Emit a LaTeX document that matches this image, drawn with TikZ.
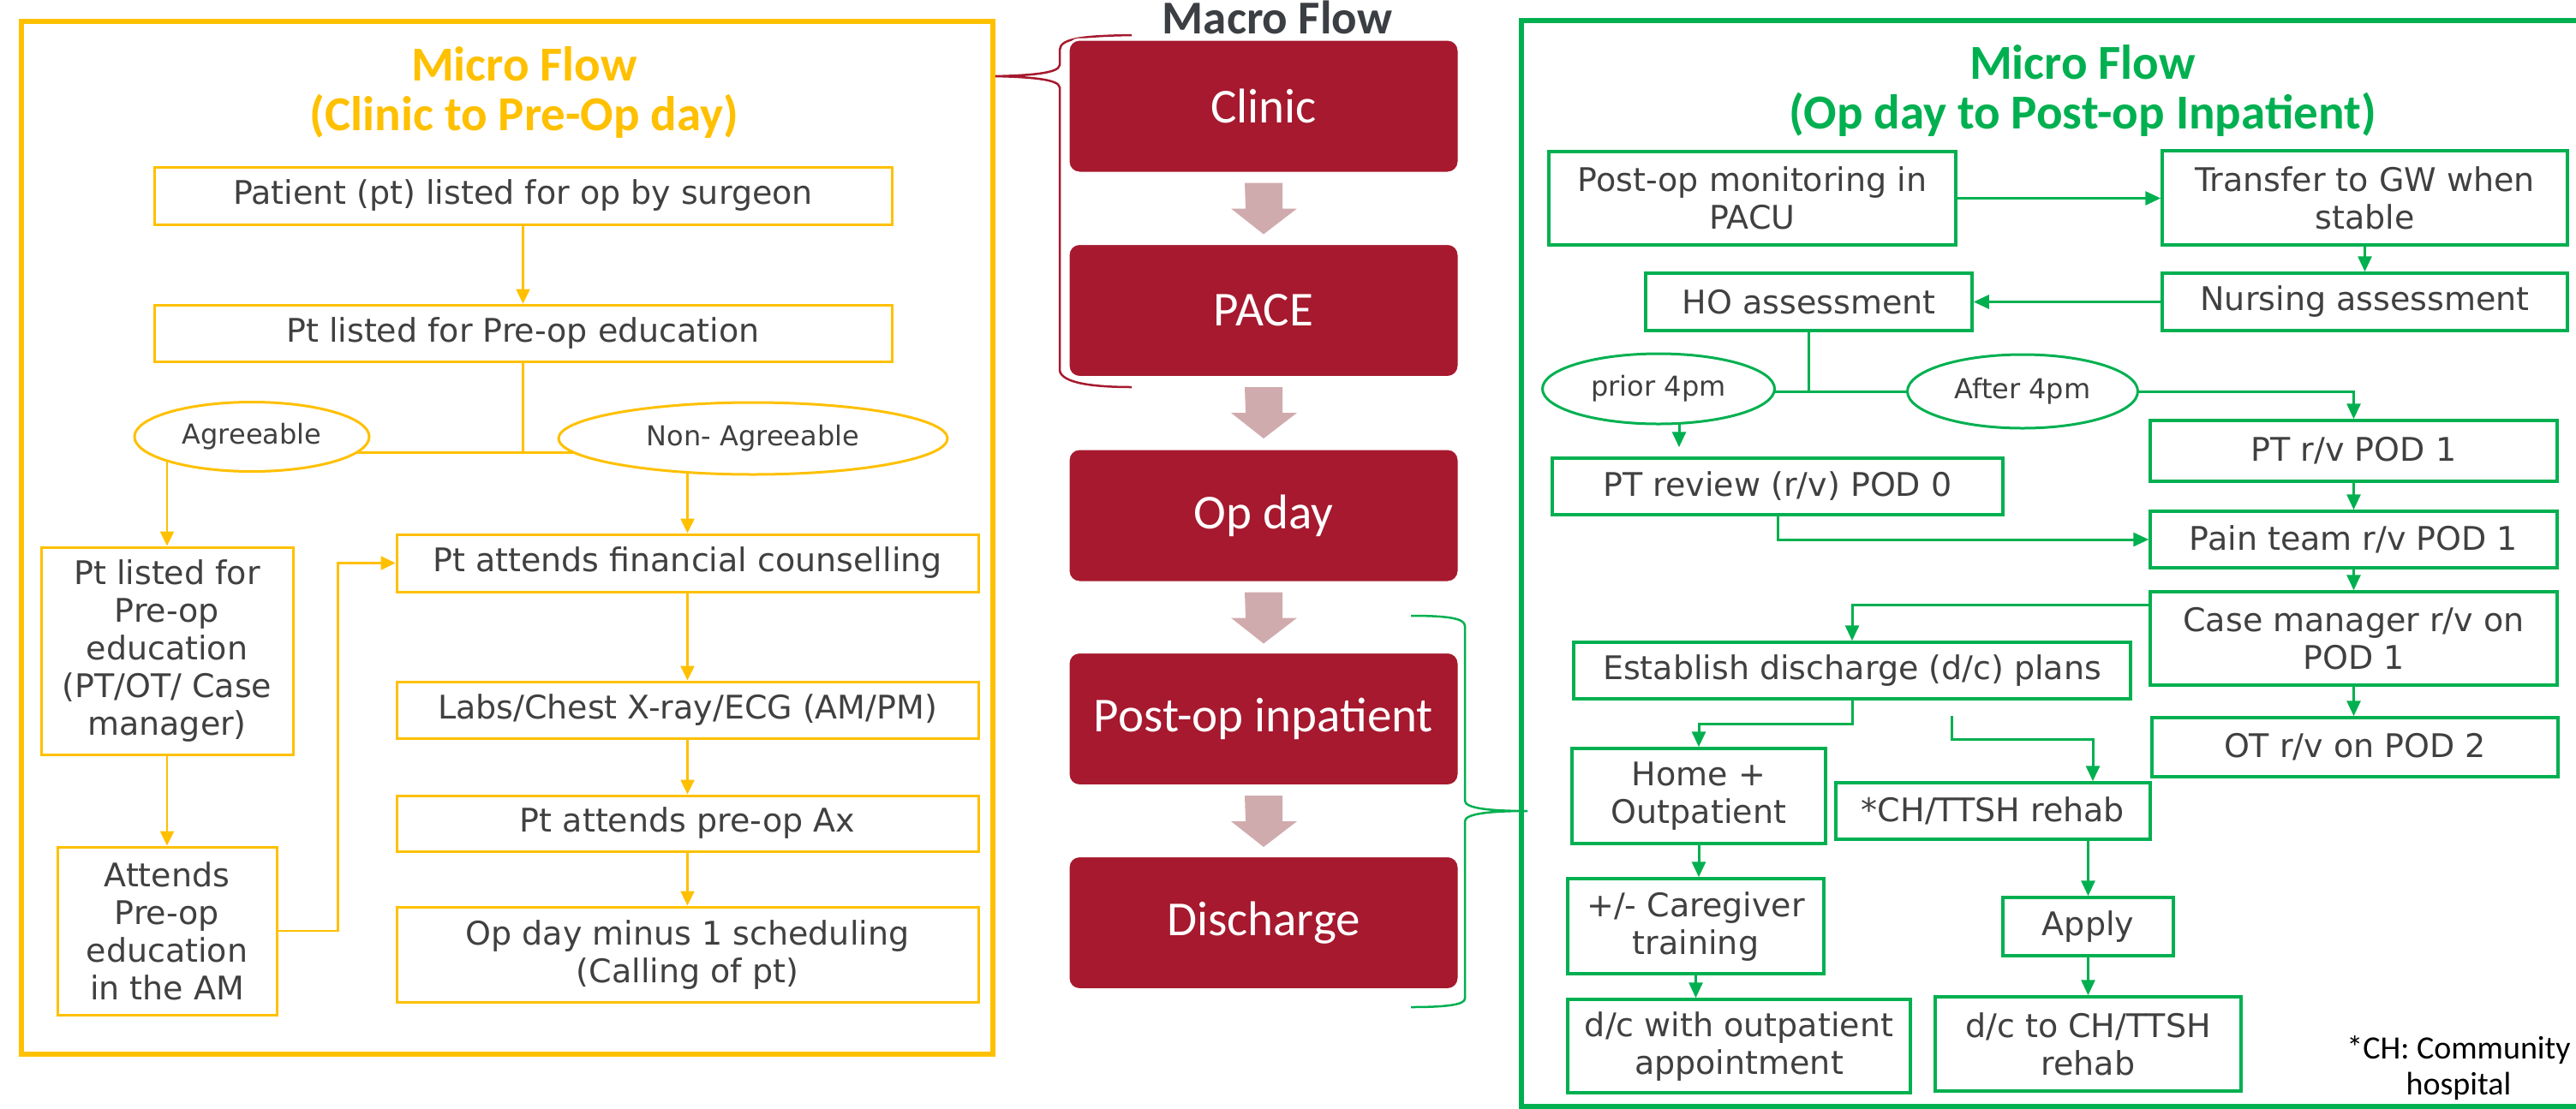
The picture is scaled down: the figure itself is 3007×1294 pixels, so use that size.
\documentclass[tikz,border=0pt]{standalone}
\usepackage{fontspec}
\setmainfont{DejaVu Sans}
\newfontfamily\calib{Carlito}
\usetikzlibrary{arrows.meta,shapes.geometric,backgrounds}
\definecolor{yel}{HTML}{FFC000}
\definecolor{grn}{HTML}{00B050}
\definecolor{mred}{HTML}{A6192E}
\definecolor{mpink}{HTML}{D0ABAE}
\definecolor{txt}{HTML}{404040}
\definecolor{ttl}{HTML}{3B3E42}
\tikzset{
  boxfont/.style={font=\fontsize{38}{44}\selectfont},
  ybox/.style={draw=yel, line width=3pt, fill=white, text=txt, boxfont, align=center, inner sep=0pt},
  gbox/.style={draw=grn, line width=3.5pt, fill=white, text=txt, boxfont, align=center, inner sep=0pt},
  yell/.style={ellipse, draw=yel, line width=3pt, fill=white, text=txt, font=\fontsize{32}{38}\selectfont, inner sep=0pt},
  gell/.style={ellipse, draw=grn, line width=3pt, fill=white, text=txt, font=\fontsize{32}{38}\selectfont, inner sep=0pt},
  yline/.style={draw=yel, line width=2.5pt},
  gline/.style={draw=grn, line width=3pt},
  yarr/.style={yline, -{Triangle[length=17pt,width=16pt]}},
  garr/.style={gline, -{Triangle[length=18pt,width=16pt]}},
  macrobox/.style={rounded corners=13pt, fill=mred, draw=white, line width=3pt, text=white,
    font=\calib\fontsize{57}{60}\selectfont, minimum width=456pt, minimum height=156pt, inner sep=0pt},
  blockarrow/.style={fill=mpink},
  ttlfont/.style={font=\calib\bfseries\fontsize{57}{58}\selectfont, align=center}
}
\begin{document}
\begin{tikzpicture}[x=1pt,y=-1pt]
\useasboundingbox (0,0) rectangle (3007,1294);

% frames
\draw[yel, line width=6pt] (25,25) rectangle (1159,1231);
\draw[grn, line width=6pt] (1776,24) rectangle (3040,1292);

% titles
\node[ttlfont, text=yel] (ytitle) at (612,108) {Micro Flow\\(Clinic to Pre-Op day)};
\node[ttlfont, text=grn] (gtitle) at (2431,106) {Micro Flow\\(Op day to Post-op Inpatient)};
\node[font=\calib\bfseries\fontsize{55}{60}\selectfont, text=ttl, anchor=base] (mtitle) at (1491,39) {Macro Flow};

% braces
\draw[mred, line width=2.5pt] (1321,41) .. controls (1262,42) and (1238,45) .. (1237,58)
  -- (1237,76) .. controls (1236,86) and (1200,88) .. (1162,89)
  .. controls (1200,90) and (1236,92) .. (1237,102)
  -- (1237,432) .. controls (1238,448) and (1280,452) .. (1321,452);
\draw[grn, line width=2.5pt] (1647,719) .. controls (1690,719) and (1710,722) .. (1710,731)
  -- (1710,935) .. controls (1710,944) and (1740,947) .. (1783,947)
  .. controls (1740,947) and (1710,950) .. (1710,959)
  -- (1710,1166) .. controls (1710,1173) and (1690,1176) .. (1647,1176);

% macro flow
\node[macrobox] (m1) at (1475,124) {Clinic};
\node[macrobox] (m2) at (1475,362.5) {PACE};
\node[macrobox] (m3) at (1475,602) {Op day};
\node[macrobox] (m4) at (1475,839.5) {Post-op inpatient};
\node[macrobox] (m5) at (1475,1077.5) {Discharge};
\foreach \a in {m1,m2,m3,m4}
  \fill[blockarrow] ([shift={(-22,10)}]\a.south) -- ++(44,0) -- ++(0,30) -- ++(17,0) -- ++(-39,30) -- ++(-38,-30) -- ++(17,0) -- cycle;

% yellow micro flow
\node[ybox, minimum width=861pt, minimum height=67pt] (y1) at (610.5,228.5) {Patient (pt) listed for op by surgeon};
\node[ybox, minimum width=861pt, minimum height=66pt] (y2) at (610.5,389) {Pt listed for Pre-op education};
\node[yell, minimum width=274pt, minimum height=81pt] (yag) at (294,510) {Agreeable};
\node[yell, minimum width=454pt, minimum height=84pt] (ynag) at (879,512) {Non- Agreeable};
\node[ybox, minimum width=294pt, minimum height=242pt] (y3) at (195,760) {Pt listed for\\Pre-op\\education\\(PT/OT/ Case\\manager)};
\node[ybox, minimum width=256pt, minimum height=196pt] (y4) at (195,1087) {Attends\\Pre-op\\education\\in the AM};
\node[ybox, minimum width=679pt, minimum height=67pt] (y5) at (802.5,657.5) {Pt attends financial counselling};
\node[ybox, minimum width=679pt, minimum height=66pt] (y6) at (802.5,829) {Labs/Chest X-ray/ECG (AM/PM)};
\node[ybox, minimum width=679pt, minimum height=65pt] (y7) at (802.5,961.5) {Pt attends pre-op Ax};
\node[ybox, minimum width=679pt, minimum height=111pt] (y8) at (802.5,1114.5) {Op day minus 1 scheduling\\(Calling of pt)};

% green micro flow
\node[gbox, minimum width=475pt, minimum height=109pt] (g1) at (2045.5,231.5) {Post-op monitoring in\\PACU};
\node[gbox, minimum width=473pt, minimum height=110pt] (g2) at (2760.5,231) {Transfer to GW when\\stable};
\node[gbox, minimum width=473pt, minimum height=67pt] (g3) at (2760.5,352.5) {Nursing assessment};
\node[gbox, minimum width=381pt, minimum height=67pt] (g4) at (2111.5,352.5) {HO assessment};
\node[gell, minimum width=271pt, minimum height=82pt] (gprior) at (1936,454) {prior 4pm};
\node[gell, minimum width=269pt, minimum height=86pt] (gafter) at (2361,457) {After 4pm};
\node[gbox, minimum width=526pt, minimum height=66pt] (g5) at (2075,568) {PT review (r/v) POD 0};
\node[gbox, minimum width=475pt, minimum height=71pt] (g6) at (2747.5,526.5) {PT r/v POD 1};
\node[gbox, minimum width=475pt, minimum height=66pt] (g7) at (2747.5,630) {Pain team r/v POD 1};
\node[gbox, minimum width=475pt, minimum height=109pt] (g8) at (2747.5,745.5) {Case manager r/v on\\POD 1};
\node[gbox, minimum width=474pt, minimum height=69pt] (g9) at (2749,872.5) {OT r/v on POD 2};
\node[gbox, minimum width=650pt, minimum height=66pt] (g10) at (2162,783) {Establish discharge (d/c) plans};
\node[gbox, minimum width=296pt, minimum height=111pt] (g11) at (1983,929.5) {Home +\\Outpatient};
\node[gbox, minimum width=367pt, minimum height=66pt] (g12) at (2326.5,947) {*CH/TTSH rehab};
\node[gbox, minimum width=299pt, minimum height=111pt] (g13) at (1979.5,1081.5) {+/- Caregiver\\training};
\node[gbox, minimum width=199pt, minimum height=68pt] (g14) at (2437.5,1082) {Apply};
\node[gbox, minimum width=400pt, minimum height=109pt] (g15) at (2030,1221.5) {d/c with outpatient\\appointment};
\node[gbox, minimum width=357pt, minimum height=110pt] (g16) at (2437.5,1219) {d/c to CH/TTSH\\rehab};
\node[font=\calib\fontsize{38}{42}\selectfont, text=black, align=center] (note) at (2870,1247) {*CH: Community\\hospital};

\coordinate (gs) at (2278,836);

\begin{pgfonlayer}{background}
\fill[white] (0,0) rectangle (3007,1294);
% yellow connectors
\draw[yarr] (y1.south) -- (y2.north);
\path (y2.south) ++(0,105) coordinate (yj);
\draw[yline] (y2.south) -- (yj);
\draw[yline] (yag.center |- yj) -- (ynag.center |- yj);
\draw[yarr] (yag.center -| y3.north) -- (y3.north);
\draw[yarr] (ynag.center -| y5.north) -- (y5.north);
\draw[yarr] (y3.south) -- (y4.north);
\draw[yarr] (y4.east) -- ++(70,0) |- (y5.west);
\draw[yarr] (y5.south) -- (y6.north);
\draw[yarr] (y6.south) -- (y7.north);
\draw[yarr] (y7.south) -- (y8.north);
% green connectors
\draw[garr] (g1.east) -- (g1.east -| g2.west);
\draw[garr] (g2.south) -- (g3.north);
\draw[garr] (g3.west) -- (g4.east);
\path (g4.south) ++(0,70) coordinate (gj);
\draw[gline] (g4.south) -- (gj);
\draw[gline] (gprior.center |- gj) -- (gafter.center |- gj);
\draw[garr, shorten >=11pt] ([xshift=24pt]gprior.center) -- ([xshift=-115pt]g5.north);
\draw[garr] (gafter.center) -| (g6.north);
\draw[garr] (g6.south) -- (g7.north);
\draw[garr] (g5.south) |- (g7.west);
\draw[garr] (g7.south) -- (g8.north);
\draw[garr] ([yshift=39.5pt]g8.west) -| (g10.north);
\draw[garr] (g8.south) -- (g8.south |- g9.north);
\draw[garr] (g10.south) -- ++(0,28) -| (g11.north);
\draw[garr] (gs) -- ++(0,27) -| ([xshift=116.5pt]g12.north);
\draw[garr] (g11.south) -- (g11.south |- g13.north);
\draw[garr] (g13.south) -- (g13.south |- g15.north);
\draw[garr] (g14.north |- g12.south) -- (g14.north);
\draw[garr] (g14.south) -- (g16.north);
\end{pgfonlayer}
\end{tikzpicture}
\end{document}
